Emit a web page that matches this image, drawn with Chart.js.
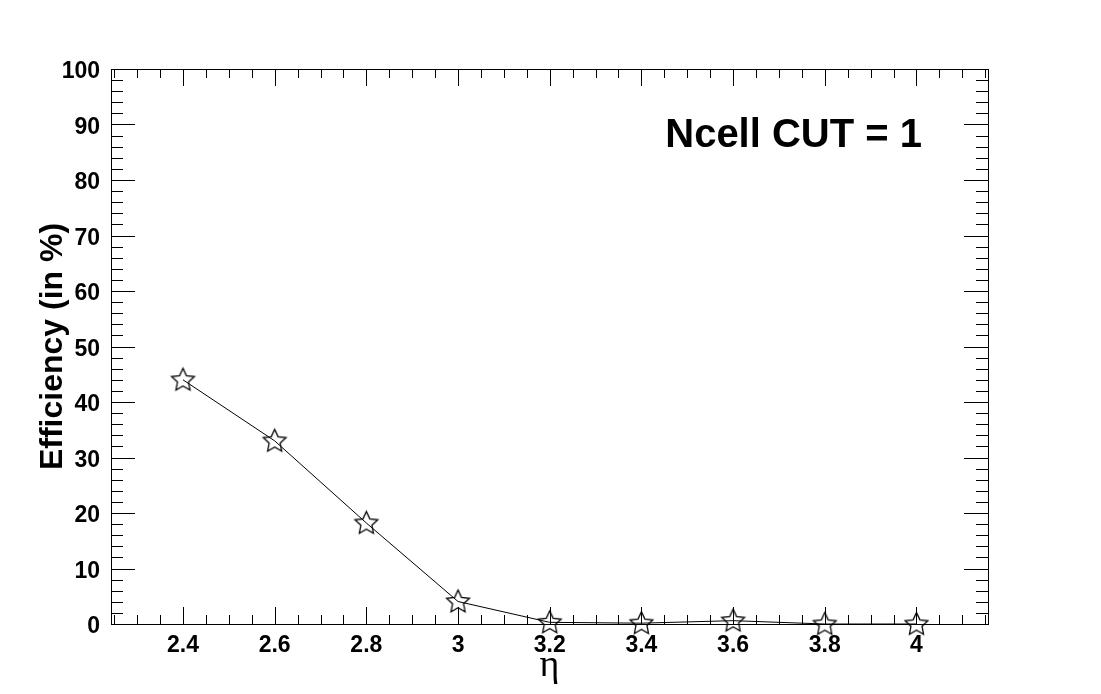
<!DOCTYPE html>
<html>
<head>
<meta charset="utf-8">
<script src="https://cdn.jsdelivr.net/npm/chart.js@4"></script>
<style>
  html, body { margin: 0; padding: 0; background: #fff; }
</style>
</head>
<body>
<canvas id="eff-chart" width="1101" height="694"></canvas>
<script>
// dane
const etaValues = [2.4, 2.6, 2.8, 3.0, 3.2, 3.4, 3.6, 3.8, 4.0];
const efficiency = [44.0, 33.0, 18.2, 4.05, 0.3, 0.15, 0.6, 0.0, 0.0];
const xTickLabels = [2.4, 2.6, 2.8, 3, 3.2, 3.4, 3.6, 3.8, 4];
const yTickLabels = [0, 10, 20, 30, 40, 50, 60, 70, 80, 90, 100];
const cutLabel = 'Ncell CUT = 1';

// otwarta gwiazdka jak marker 30 w ROOT
function makeStar() {
    const c = document.createElement('canvas');
    c.width = 27;
    c.height = 27;
    const ctx = c.getContext('2d');
    const cx = 13.5, cy = 14, R = 12, r = 5.8;
    ctx.beginPath();
    for (let i = 0; i < 10; i++) {
        const rad = i % 2 === 0 ? R : r;
        const a = -Math.PI / 2 + i * Math.PI / 5;
        const x = cx + rad * Math.cos(a);
        const y = cy + rad * Math.sin(a);
        if (i === 0) ctx.moveTo(x, y); else ctx.lineTo(x, y);
    }
    ctx.closePath();
    ctx.lineWidth = 1.3;
    ctx.strokeStyle = '#000';
    ctx.stroke();
    return c;
}

// Plugin rysujący ramkę i ticki do środka (styl ROOT)
const rootFramePlugin = {
    id: 'rootFrame',
    beforeDatasetsDraw(chart) {
        const { ctx, chartArea: a } = chart;
        const xs = chart.scales.x;
        const ys = chart.scales.y;
        ctx.save();
        ctx.strokeStyle = '#000';
        ctx.lineWidth = 1;
        ctx.strokeRect(a.left + 0.5, a.top + 0.5, a.right - a.left, a.bottom - a.top);
        ctx.beginPath();
        // ticki osi x, co 0.05, duże co 0.2
        for (let k = 44; k <= 84; k++) {
            const v = k * 0.05;
            if (v < xs.min || v > xs.max) continue;
            const px = Math.round(xs.getPixelForValue(v)) + 0.5;
            const len = k % 4 === 0 ? 17 : 9;
            ctx.moveTo(px, a.bottom);
            ctx.lineTo(px, a.bottom - len);
            ctx.moveTo(px, a.top);
            ctx.lineTo(px, a.top + len);
        }
        // ticki osi y, co 2, duże co 10
        for (let v = 0; v <= 100; v += 2) {
            const py = Math.round(ys.getPixelForValue(v)) + 0.5;
            const len = v % 10 === 0 ? 24 : 12;
            ctx.moveTo(a.left, py);
            ctx.lineTo(a.left + len, py);
            ctx.moveTo(a.right, py);
            ctx.lineTo(a.right - len, py);
        }
        ctx.stroke();
        ctx.restore();
    },
    afterDraw(chart) {
        const { ctx, chartArea: a } = chart;
        ctx.save();
        ctx.fillStyle = '#000';
        ctx.font = 'bold 40px "Liberation Sans", Arial, sans-serif';
        ctx.textAlign = 'right';
        ctx.textBaseline = 'alphabetic';
        ctx.fillText(cutLabel, a.right - 66, a.top + 78);
        ctx.restore();
    }
};

const star = makeStar();

const effChart = new Chart(document.getElementById('eff-chart'), {
    type: 'line',
    data: {
        datasets: [{
            data: etaValues.map((x, i) => ({ x: x, y: efficiency[i] })),
            borderColor: '#000',
            borderWidth: 1,
            tension: 0,
            fill: false,
            pointStyle: star,
            pointRadius: 12,
            pointHoverRadius: 12,
            clip: false
        }]
    },
    options: {
        responsive: false,
        animation: false,
        events: [],
        layout: { padding: { top: 69, right: 113, left: 0, bottom: 0 } },
        plugins: {
            legend: { display: false },
            tooltip: { enabled: false }
        },
        scales: {
            x: {
                type: 'linear',
                min: 2.243,
                max: 4.156,
                grid: { display: false, drawTicks: false, tickLength: 0 },
                border: { display: false },
                afterBuildTicks(scale) {
                    scale.ticks = xTickLabels.map(v => ({ value: v }));
                },
                afterFit(scale) { scale.height = 70; },
                ticks: {
                    padding: 8,
                    color: '#000',
                    font: { family: '"Liberation Sans", Arial, sans-serif', size: 23, weight: 'bold' },
                    callback: v => String(+Number(v).toFixed(1))
                },
                title: {
                    display: true,
                    text: 'η',
                    color: '#000',
                    font: { family: '"Liberation Serif", "DejaVu Serif", serif', size: 38 },
                    padding: { top: 0, bottom: 5 }
                }
            },
            y: {
                min: 0,
                max: 100,
                grid: { display: false, drawTicks: false, tickLength: 0 },
                border: { display: false },
                afterBuildTicks(scale) {
                    scale.ticks = yTickLabels.map(v => ({ value: v }));
                },
                afterFit(scale) { scale.width = 111; },
                ticks: {
                    padding: 11,
                    labelOffset: 3,
                    color: '#000',
                    font: { family: '"Liberation Sans", Arial, sans-serif', size: 23, weight: 'bold' }
                },
                title: {
                    display: true,
                    text: 'Efficiency (in %)',
                    color: '#000',
                    font: { family: '"Liberation Sans", Arial, sans-serif', size: 32, weight: 'bold' },
                    padding: { top: 34, bottom: 0 }
                }
            }
        }
    },
    plugins: [rootFramePlugin]
});
</script>
</body>
</html>
